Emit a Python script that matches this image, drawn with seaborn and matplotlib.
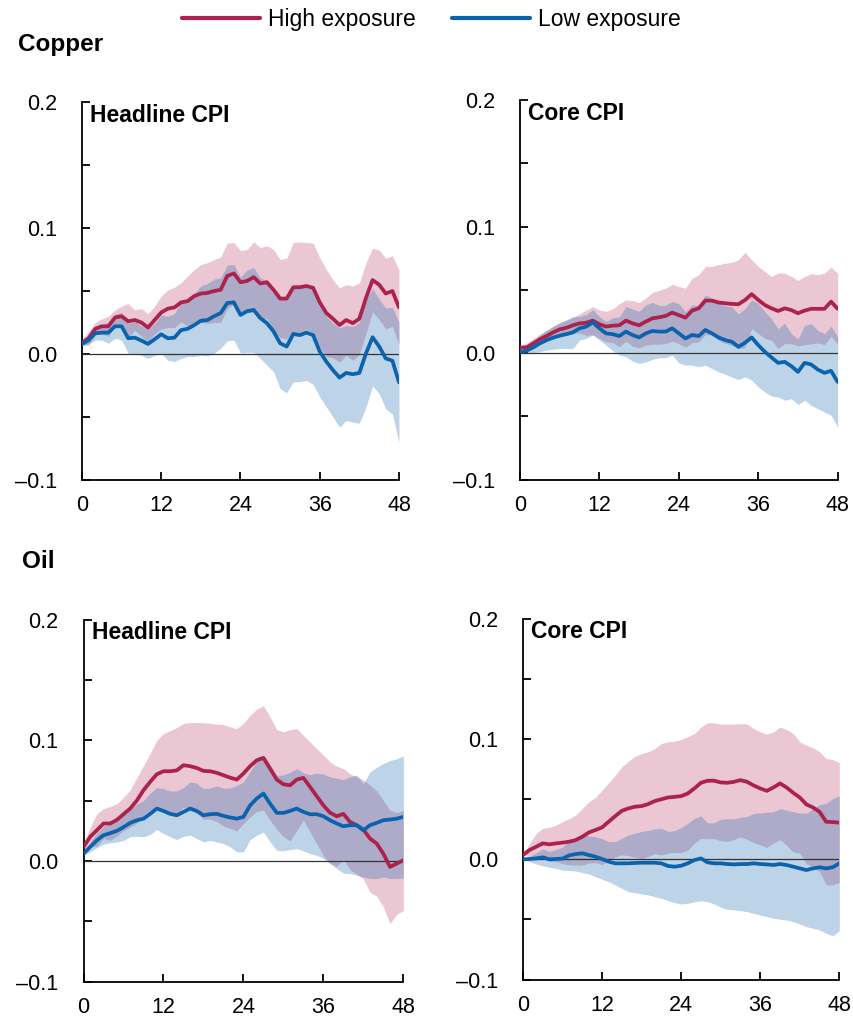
import pandas as pd
import matplotlib
matplotlib.use("Agg")
import matplotlib.pyplot as plt
from matplotlib.lines import Line2D
import seaborn as sns

# months after the shock
months = list(range(49))

# Copper, headline CPI
cu_head_high = [.009, .0125, .020, .022, .022, .029, .030, .026, .027, .025, .021, .027, .033, .036, .037, .041, .042, .046, .048, .0485,
                .050, .051, .062, .064, .057, .058, .061, .056, .057, .051, .044, .044, .053, .053, .054, .0525, .041, .0325, .028, .023,
                .027, .0245, .028, .0445, .0587, .055, .048, .050, .037]
cu_head_high_hi = [.011, .018, .025, .028, .030, .035, .038, .040, .035, .036, .032, .038, .046, .051, .053, .0565, .062, .067, .071, .0725,
                   .075, .077, .088, .0885, .082, .083, .089, .0845, .086, .083, .075, .076, .0885, .089, .0885, .088, .0765, .067, .059, .0525,
                   .055, .054, .0565, .0725, .084, .0825, .076, .078, .0667]
cu_head_high_lo = [.007, .007, .015, .016, .014, .023, .022, .012, .019, .014, .010, .016, .020, .021, .021, .0255, .022, .025, .025, .0245,
                   .025, .025, .036, .0395, .032, .033, .033, .0275, .028, .019, .013, .012, .0175, .017, .0195, .017, .0055, -.002, -.003, -.0065,
                   -.001, -.005, -.0005, .0165, .0334, .0275, .020, .022, .0073]
cu_head_low = [.008, .011, .0165, .017, .017, .022, .022, .0125, .013, .0107, .008, .0117, .0157, .0125, .013, .019, .020, .023, .0264, .027,
               .030, .0325, .0405, .041, .031, .034, .035, .0285, .0245, .018, .0085, .006, .016, .015, .017, .015, .002, -.006, -.0128, -.0187,
               -.015, -.016, -.015, .0005, .0133, .006, -.0035, -.0053, -.0224]
cu_head_low_hi = [.009, .014, .022, .023, .0255, .0315, .033, .0245, .026, .0224, .0195, .0244, .031, .030, .032, .0415, .042, .048, .054, .056,
                  .0595, .0605, .0706, .071, .061, .0667, .0687, .0605, .058, .050, .0445, .0427, .054, .052, .055, .054, .038, .030, .0244, .0206,
                  .0228, .022, .025, .043, .052, .0435, .0365, .037, .025]
cu_head_low_lo = [.007, .008, .011, .011, .0085, .0125, .011, .0005, 0, -.001, -.0035, -.001, .0005, -.005, -.006, -.0035, -.002, -.002, -.001, -.0016,
                  .0005, .0045, .0104, .011, .001, .0013, .0013, -.0035, -.0088, -.0141, -.0275, -.0307, -.0221, -.022, -.021, -.024, -.034, -.042, -.050, -.058,
                  -.0528, -.054, -.055, -.042, -.0253, -.0315, -.0435, -.0475, -.070]

# Copper, core CPI
cu_core_high = [.0045, .0045, .0077, .011, .0135, .0164, .0188, .020, .022, .0235, .024, .0257, .0228, .021, .0217, .022, .0257, .0235, .022, .0249,
                .0275, .0283, .0294, .032, .030, .028, .0336, .0354, .0415, .0415, .040, .0394, .0389, .0386, .042, .0466, .042, .038, .0354, .0333,
                .0354, .034, .0315, .0336, .035, .035, .035, .0407, .035]
cu_core_high_hi = [.0056, .008, .0116, .015, .018, .021, .024, .026, .028, .031, .034, .0368, .034, .033, .035, .039, .042, .0415, .040, .0434,
                   .048, .0495, .0513, .0545, .0526, .0513, .059, .062, .0685, .0685, .070, .071, .0717, .0738, .0796, .0738, .0685, .0645, .0606, .0632,
                   .0632, .0606, .0574, .0606, .0627, .062, .0632, .068, .0632]
cu_core_high_lo = [.0034, .001, .0038, .007, .009, .0118, .0136, .014, .016, .016, .014, .0146, .0116, .009, .0084, .005, .0094, .0055, .004, .0064,
                   .007, .007, .0075, .0095, .0074, .0047, .0082, .0088, .0145, .0145, .010, .0078, .0061, .0034, .0044, .0194, .0155, .0115, .0102, .0034,
                   .0076, .0074, .0056, .0066, .0073, .008, .0068, .0134, .0068]
cu_core_low = [.001, .002, .0045, .0077, .0103, .0122, .0138, .015, .0164, .0196, .021, .0243, .0196, .0156, .015, .0135, .017, .0143, .0124, .0156,
               .0175, .017, .017, .0196, .0156, .0116, .0143, .0135, .0183, .0156, .0124, .0103, .009, .005, .0082, .0124, .0063, .001, -.0034, -.0077,
               -.0069, -.0103, -.0148, -.0077, -.009, -.013, -.0156, -.014, -.0228]
cu_core_low_hi = [.0017, .0037, .0087, .0142, .018, .0214, .024, .0263, .029, .029, .0304, .0343, .029, .025, .028, .0286, .0369, .0349, .033, .0381,
                  .040, .0377, .0377, .0408, .0389, .0327, .0381, .0378, .0461, .0434, .0396, .0373, .0368, .0309, .0352, .042, .0393, .0327, .0271, .0193,
                  .0235, .0154, .0111, .0219, .0233, .0179, .0154, .0212, .0129]
cu_core_low_lo = [.0003, .0003, .0003, .0012, .0024, .003, .0037, .0037, .0037, .0103, .0116, .0143, .0103, .0063, .0019, -.0016, -.0029, -.0063, -.0082, -.0069,
                  -.005, -.0037, -.0037, -.0016, -.0077, -.0095, -.0095, -.0108, -.0095, -.0122, -.0148, -.0167, -.0188, -.0209, -.0188, -.0214, -.0267, -.0307, -.0339, -.0347,
                  -.0373, -.036, -.0407, -.0373, -.0413, -.0439, -.0466, -.0492, -.0585]

# Oil, headline CPI
oil_head_high = [.0116, .020, .0254, .031, .031, .034, .0387, .0434, .050, .0586, .0655, .0718, .0743, .0743, .075, .0793, .0785, .077, .0746, .0743,
                 .073, .071, .069, .0674, .0724, .0785, .0834, .0854, .0765, .0674, .0635, .0627, .0674, .0688, .0613, .0536, .046, .040, .037, .039,
                 .0323, .0296, .026, .0185, .0144, .006, -.005, -.0022, .0005]
oil_head_high_hi = [.0144, .028, .039, .0434, .045, .0475, .0525, .0586, .069, .079, .089, .100, .1055, .108, .1105, .114, .1146, .1146, .1146, .114,
                    .1133, .113, .111, .1097, .114, .1207, .1257, .1285, .1193, .1088, .107, .1088, .1097, .104, .0986, .093, .0876, .082, .0785, .0765,
                    .072, .070, .067, .063, .058, .050, .042, .040, .042]
oil_head_high_lo = [.0088, .012, .0118, .0186, .017, .0205, .025, .028, .031, .038, .042, .0436, .043, .0406, .0395, .0446, .0424, .0394, .0346, .0346,
                    .0327, .029, .027, .025, .031, .0363, .041, .042, .0337, .026, .020, .0166, .0251, .0336, .024, .0142, .0044, -.002, -.0045, .0015,
                    -.0074, -.0108, -.015, -.026, -.0292, -.038, -.052, -.0444, -.041]
oil_head_low = [.006, .0116, .017, .0213, .023, .0249, .028, .0315, .0337, .035, .039, .0434, .0414, .039, .0378, .0406, .0434, .0414, .0378, .0387,
                .039, .0373, .036, .035, .0365, .046, .0517, .0558, .0475, .0398, .0398, .0414, .0434, .0406, .0387, .0387, .037, .0337, .031, .0287,
                .0296, .0296, .0254, .0296, .0315, .0337, .0343, .035, .0365]
oil_head_low_hi = [.0073, .0157, .023, .0288, .031, .0341, .039, .043, .047, .050, .056, .0608, .060, .058, .0579, .0608, .0655, .0643, .0599, .0604,
                   .0623, .0602, .0604, .0625, .0655, .0743, .0821, .0876, .0793, .0708, .0713, .0734, .0766, .0729, .0714, .0727, .0721, .0696, .0684, .0674,
                   .0697, .0711, .0641, .0738, .0776, .0807, .0832, .0846, .087]
oil_head_low_lo = [.0047, .0075, .011, .0138, .015, .0157, .017, .020, .0204, .020, .022, .026, .0227, .020, .0177, .0204, .0213, .0185, .0157, .017,
                   .0157, .0144, .0116, .0075, .0075, .0177, .0213, .024, .0157, .0088, .0083, .0094, .0102, .0083, .006, .0047, .0019, -.0022, -.0064, -.010,
                   -.0105, -.0119, -.0133, -.0146, -.0146, -.0133, -.0146, -.0146, -.014]

# Oil, core CPI
oil_core_high = [.0036, .0078, .0105, .0133, .0125, .0133, .0139, .0147, .016, .0188, .0224, .0244, .0266, .0313, .036, .0404, .0424, .0438, .0443, .046,
                 .0485, .050, .0515, .052, .0526, .0548, .059, .0637, .0654, .0654, .064, .0637, .0645, .0659, .0645, .0615, .059, .057, .0598, .0632,
                 .0598, .0554, .0515, .0457, .0432, .0396, .0313, .031, .0305]
oil_core_high_hi = [.0036, .0133, .0216, .0258, .0266, .0285, .0313, .034, .0368, .0424, .0479, .0515, .0576, .0637, .070, .077, .0817, .0859, .088, .0895,
                    .0922, .0964, .0978, .0983, .0997, .102, .1047, .110, .1136, .1136, .1125, .1125, .1125, .113, .1125, .1089, .106, .1042, .106, .110,
                    .108, .1047, .0978, .095, .0928, .0895, .0839, .0831, .0803]
oil_core_high_lo = [.0036, .0023, -.0006, .0008, -.0016, -.0019, -.0035, -.0046, -.0048, -.0048, -.0031, -.0027, -.0044, -.0011, .002, .0038, .0031, .0017, .0006, .0025,
                    .0048, .0036, .0052, .0057, .0055, .0076, .0133, .0174, .0172, .0172, .0155, .0149, .0165, .0188, .0165, .0141, .012, .0098, .0136, .0164,
                    .0116, .0061, .0052, -.0036, -.0064, -.0103, -.0213, -.0211, -.0193]
oil_core_low = [0, .0003, .0008, .0017, 0, .0003, .0006, .0033, .0044, .005, .0036, .0022, .0003, -.0019, -.0033, -.0033, -.0033, -.003, -.0028, -.0028,
                -.0028, -.0033, -.0055, -.0061, -.0053, -.0033, -.0006, .0008, -.0025, -.0033, -.0033, -.0039, -.0042, -.0039, -.0039, -.0033, -.0039, -.0042, -.0047, -.0039,
                -.0047, -.0061, -.0075, -.0089, -.0075, -.0066, -.0075, -.0066, -.0033]
oil_core_low_hi = [.0006, .0025, .0055, .0087, .0066, .0081, .0101, .016, .0185, .021, .0194, .0188, .0172, .0148, .0147, .0175, .0203, .0217, .0232, .024,
                   .0254, .0258, .0233, .0238, .0265, .030, .034, .0362, .0302, .0305, .0333, .0338, .0337, .0349, .0357, .0383, .0385, .0392, .0396, .0421,
                   .041, .0396, .0387, .0382, .0423, .0455, .0465, .0505, .0527]
oil_core_low_lo = [-.0006, -.0019, -.0039, -.0053, -.0066, -.0075, -.0089, -.0094, -.0097, -.011, -.0122, -.0144, -.0166, -.0186, -.0213, -.0241, -.0269, -.0277, -.0288, -.0296,
                   -.031, -.0324, -.0343, -.036, -.0371, -.0366, -.0352, -.0346, -.0352, -.0371, -.0399, -.0416, -.0421, -.0427, -.0435, -.0449, -.0463, -.0476, -.049, -.0499,
                   -.0504, -.0518, -.0537, -.056, -.0573, -.0587, -.0615, -.0637, -.0593]

x_ticks = [0, 12, 24, 36, 48]
y_ticks = [-0.1, -0.05, 0.0, 0.05, 0.1, 0.15, 0.2]
y_labels = ["\u20130.1", "", "0.0", "", "0.1", "", "0.2"]
groups = ["High exposure", "Low exposure"]

RED = "#AD224D"
BLUE = "#0C63AD"
colors = {"High exposure": RED, "Low exposure": BLUE}

sns.set_style("ticks")
plt.rcParams["font.family"] = ["Liberation Sans", "DejaVu Sans"]
plt.rcParams["text.color"] = "black"
plt.rcParams["xtick.labelcolor"] = "black"
plt.rcParams["ytick.labelcolor"] = "black"


def draw_panel(ax, title, high, high_lo, high_hi, low, low_lo, low_hi):
    df = pd.DataFrame({"month": months, groups[0]: high, groups[1]: low})
    df = df.melt(id_vars="month", var_name="group", value_name="value")
    # confidence bands first, then the zero line, then the lines
    ax.fill_between(months, high_lo, high_hi, color=RED, alpha=0.25, lw=0)
    ax.fill_between(months, low_lo, low_hi, color=BLUE, alpha=0.27, lw=0)
    ax.axhline(0, color="#333333", lw=0.9, zorder=2)
    sns.lineplot(data=df, x="month", y="value", hue="group", hue_order=groups,
                 palette=colors, lw=2.7, ax=ax, legend=False, zorder=3)
    ax.set_xlim(0, 48)
    ax.set_ylim(-0.1, 0.2)
    ax.set_xticks(x_ticks)
    ax.set_yticks(y_ticks)
    ax.set_yticklabels(y_labels)
    ax.set_xlabel("")
    ax.set_ylabel("")
    sns.despine(ax=ax)
    for s in ["left", "bottom"]:
        ax.spines[s].set_linewidth(1.3)
        ax.spines[s].set_color("black")
    ax.tick_params(axis="both", direction="in", length=6, width=1.3, labelsize=15.5,
                   color="black", labelcolor="black")
    ax.tick_params(axis="y", pad=18)
    ax.tick_params(axis="x", pad=11)
    ax.text(0.025, 0.996, title, transform=ax.transAxes, ha="left", va="top",
            fontsize=16.5, fontweight="bold", color="black")


fig = plt.figure(figsize=(8.54, 10.19), dpi=100)
ax1 = fig.add_axes([0.0960, 0.5289, 0.3712, 0.3710])
ax2 = fig.add_axes([0.6089, 0.5293, 0.3720, 0.3725])
ax3 = fig.add_axes([0.0978, 0.0367, 0.3745, 0.3553])
ax4 = fig.add_axes([0.6124, 0.0387, 0.3704, 0.3539])

draw_panel(ax1, "Headline CPI", cu_head_high, cu_head_high_lo, cu_head_high_hi, cu_head_low, cu_head_low_lo, cu_head_low_hi)
draw_panel(ax2, "Core CPI", cu_core_high, cu_core_high_lo, cu_core_high_hi, cu_core_low, cu_core_low_lo, cu_core_low_hi)
draw_panel(ax3, "Headline CPI", oil_head_high, oil_head_high_lo, oil_head_high_hi, oil_head_low, oil_head_low_lo, oil_head_low_hi)
draw_panel(ax4, "Core CPI", oil_core_high, oil_core_high_lo, oil_core_high_hi, oil_core_low, oil_core_low_lo, oil_core_low_hi)

fig.text(18 / 854, 1 - 33 / 1019, "Copper", ha="left", va="top", fontsize=17.5, fontweight="bold", color="black")
fig.text(22 / 854, 1 - 550 / 1019, "Oil", ha="left", va="top", fontsize=17.5, fontweight="bold", color="black")

handles = [Line2D([], [], color=RED, lw=3), Line2D([], [], color=BLUE, lw=3)]
fig.legend(handles, groups, loc="center", bbox_to_anchor=(0.505, 0.981), ncol=2, frameon=False,
           fontsize=16.5, handlelength=3.4, handletextpad=0.35, columnspacing=1.6)

fig.savefig("out.png", dpi=100)
